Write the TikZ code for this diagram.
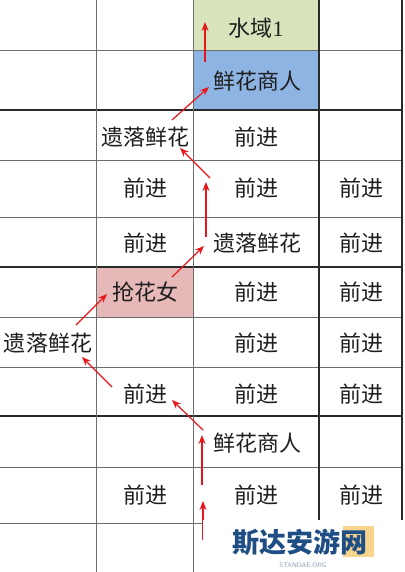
\documentclass[tikz,border=0pt]{standalone}
\usepackage{fontspec}
\newfontfamily\cjk{Noto Sans CJK SC}
\newfontfamily\latinserif{Liberation Serif}
\usetikzlibrary{arrows.meta}
\definecolor{gridgray}{HTML}{6E6E6E}
\definecolor{gridblack}{HTML}{2A2A2A}
\definecolor{watergreen}{HTML}{D8E4BC}
\definecolor{merchantblue}{HTML}{8DB4E2}
\definecolor{thiefpink}{HTML}{E6B8B7}
\definecolor{arrowred}{HTML}{E8161B}
\definecolor{txt}{HTML}{1E1E1E}
\definecolor{wmblue}{HTML}{1F4E85}
\definecolor{wmyellow}{HTML}{F8D48E}
\definecolor{wmgray}{HTML}{8AA0B8}
\begin{document}
\begin{tikzpicture}[x=1pt,y=-1pt,
  cell/.style={inner sep=0pt, text=txt, font=\cjk\fontsize{22}{24}\selectfont},
  thingrid/.style={gridgray, line width=0.8pt},
  thickgrid/.style={gridblack, line width=1.4pt},
  route/.style={arrowred, line width=1.2pt, -{Stealth[length=9pt,width=7pt]}},
]
\useasboundingbox (0,0) rectangle (404,572);
\fill[white] (0,0) rectangle (404,572);
% coloured cells
\fill[watergreen] (193,0) rectangle (319,50);
\fill[merchantblue] (193,50) rectangle (319,110);
\fill[thiefpink] (96,267) rectangle (193,317);
% grid
\foreach \yy in {50,160,217,317,367,467,523} \draw[thingrid] (0,\yy) -- (402,\yy);
\foreach \yy in {110,267,416} \draw[thickgrid] (0,\yy) -- (402,\yy);
\foreach \xx in {96,193} \draw[thingrid] (\xx,0) -- (\xx,572);
\draw[thickgrid] (319,0) -- (319,572);
\draw[thickgrid] (402,0) -- (402,572);
% cell texts
\node[cell] (w1) at (256,28) {水域{\latinserif 1}};
\node[cell] (m1) at (257,81) {鲜花商人};
\node[cell] (f1) at (145,137) {遗落鲜花};
\node[cell] (r2c2) at (256,137) {前进};
\node[cell] (r3c1) at (145,188) {前进};
\node[cell] (r3c2) at (256,188) {前进};
\node[cell] (r3c3) at (361,188) {前进};
\node[cell] (r4c1) at (145,243) {前进};
\node[cell] (f2) at (257,243) {遗落鲜花};
\node[cell] (r4c3) at (361,243) {前进};
\node[cell] (t1) at (145,292) {抢花女};
\node[cell] (r5c2) at (256,292) {前进};
\node[cell] (r5c3) at (361,292) {前进};
\node[cell] (f3) at (48,343) {遗落鲜花};
\node[cell] (r6c2) at (256,343) {前进};
\node[cell] (r6c3) at (361,343) {前进};
\node[cell] (r7c1) at (145,394) {前进};
\node[cell] (r7c2) at (256,394) {前进};
\node[cell] (r7c3) at (361,394) {前进};
\node[cell] (m2) at (257,443) {鲜花商人};
\node[cell] (r9c1) at (145,495) {前进};
\node[cell] (r9c2) at (256,495) {前进};
\node[cell] (r9c3) at (361,495) {前进};
% arrow end points
\coordinate (s1) at (205,62);  \coordinate (e1) at (205,22);
\coordinate (s2) at (172,120); \coordinate (e2) at (209,87);
\coordinate (s3) at (210,178); \coordinate (e3) at (180,148);
\coordinate (s4) at (206,237); \coordinate (e4) at (206,182);
\coordinate (s5) at (172,277); \coordinate (e5) at (204,246);
\coordinate (s6) at (76,325);  \coordinate (e6) at (107,294);
\coordinate (s7) at (112,387); \coordinate (e7) at (82,357);
\coordinate (s8) at (203,430); \coordinate (e8) at (172,400);
\coordinate (s9) at (202,485); \coordinate (e9) at (202,435);
\coordinate (s10) at (203,540); \coordinate (e10) at (203,501);
\foreach \i in {1,...,10} \draw[route] (s\i) -- (e\i);
% watermark
\fill[white] (203,520) rectangle (404,572);
\fill[wmyellow] (343,526) rectangle (374,557);
\node[inner sep=0pt, text=wmblue, font=\cjk\bfseries\fontsize{27}{29}\selectfont] (wm) at (300,542) {斯达安游网};
\node[inner sep=0pt, text=wmgray, font=\sffamily\fontsize{6.5}{7}\selectfont] (wmurl) at (303,565) {STANDAE.ORG};
\end{tikzpicture}
\end{document}
